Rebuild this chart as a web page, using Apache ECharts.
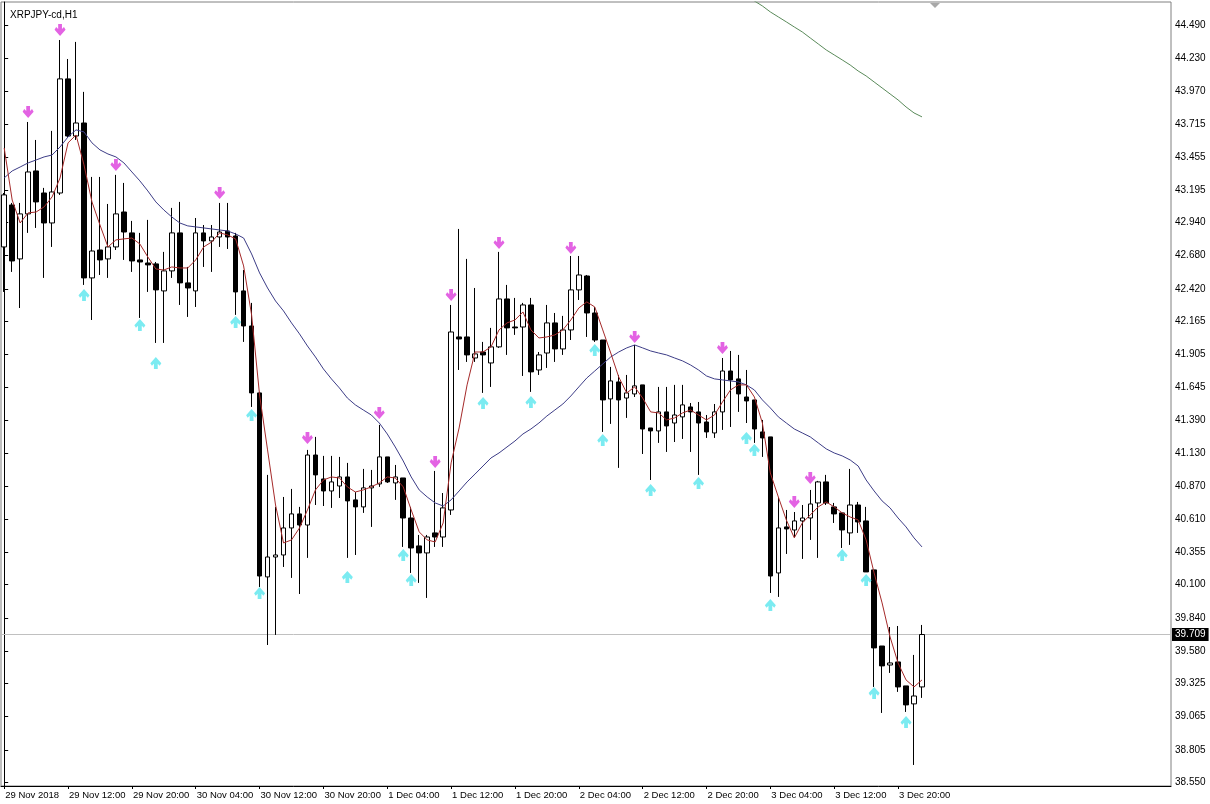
<!DOCTYPE html>
<html><head><meta charset="utf-8">
<script src="https://cdn.jsdelivr.net/npm/echarts@6/dist/echarts.min.js"></script>
<style>html,body{margin:0;padding:0;background:#fff}#c{width:1210px;height:804px}</style>
</head><body><div id="c"></div>
<script>
const chartTitle = 'XRPJPY-cd,H1';

const opens = [
42.749,43.078,42.655,43.008,43.345,43.172,42.937,43.172,44.067,43.619,
43.721,42.506,42.725,42.655,42.749,43.023,42.859,42.647,42.623,42.616,
42.404,42.561,42.859,42.467,42.404,42.859,42.796,42.827,42.874,42.835,
42.404,42.129,41.604,40.161,40.317,40.333,40.545,40.655,40.568,41.117,
40.929,40.835,40.874,40.945,40.765,40.710,40.859,40.890,41.102,40.898,
40.937,40.623,40.404,40.349,40.506,40.474,40.686,42.043,42.043,41.878,
41.925,41.839,41.965,42.341,42.121,42.121,42.294,41.784,41.917,42.153,
41.949,42.098,42.412,42.521,42.231,42.019,41.557,41.690,41.564,41.596,
41.667,41.329,41.306,41.455,41.368,41.416,41.494,41.455,41.376,41.290,
41.455,41.776,41.714,41.572,41.549,41.298,41.259,40.192,40.553,40.529,
40.600,40.623,40.741,40.906,40.710,40.663,40.506,40.725,40.600,40.216,
39.619,39.470,39.494,39.306,39.165,39.298];

const closes = [
43.157,42.639,43.008,43.337,43.102,42.937,43.180,44.067,43.619,43.721,
42.506,42.717,42.647,42.749,43.008,42.866,42.639,42.631,42.608,42.412,
42.561,42.859,42.467,42.427,42.859,42.796,42.827,42.866,42.827,42.396,
42.129,41.604,40.168,40.317,40.333,40.545,40.655,40.568,41.117,40.961,
40.835,40.906,40.945,40.757,40.710,40.859,40.874,41.102,40.906,40.945,
40.623,40.388,40.349,40.474,40.474,40.702,42.082,42.027,41.902,41.910,
41.902,41.965,42.341,42.114,42.114,42.294,41.769,41.902,42.153,41.949,
42.098,42.412,42.529,42.231,42.019,41.549,41.698,41.549,41.604,41.659,
41.321,41.306,41.455,41.345,41.431,41.510,41.455,41.368,41.298,41.455,
41.776,41.706,41.596,41.541,41.321,41.251,40.168,40.545,40.537,40.600,
40.623,40.733,40.906,40.741,40.655,40.529,40.725,40.592,40.200,39.604,
39.463,39.486,39.298,39.157,39.227,39.709];

const lows = [
42.396,42.553,42.270,42.859,42.898,42.506,42.749,43.157,43.612,43.588,
42.451,42.176,42.529,42.506,42.725,42.647,42.553,42.192,42.396,41.996,
41.996,42.506,42.294,42.200,42.278,42.592,42.553,42.749,42.733,42.216,
42.004,41.494,40.082,39.627,39.706,40.239,40.153,40.027,40.310,40.725,
40.717,40.702,40.780,40.310,40.333,40.663,40.553,40.867,40.898,40.765,
40.396,40.192,40.114,39.996,40.396,40.396,40.647,41.784,41.847,41.847,
41.604,41.651,41.957,41.902,42.059,41.737,41.612,41.745,41.800,41.847,
41.902,42.019,42.333,42.043,42.004,41.298,41.361,41.016,41.408,41.572,
41.125,40.921,41.212,41.141,41.219,41.243,41.141,40.961,41.251,41.251,
41.314,41.337,41.455,41.368,41.212,41.102,40.035,40.004,40.341,40.474,
40.302,40.451,40.310,40.725,40.584,40.388,40.412,40.506,40.200,39.298,
39.094,39.408,39.259,39.102,38.686,39.212];

const highs = [
43.172,43.094,43.094,43.729,43.588,43.212,43.659,44.372,44.223,44.357,
43.965,43.298,43.298,43.086,43.314,43.251,42.953,42.859,42.961,42.631,
42.710,43.055,43.102,42.592,42.976,42.921,42.921,43.094,43.094,42.859,
42.568,42.310,41.612,40.961,40.710,40.788,40.851,40.710,41.157,41.259,
41.110,41.110,41.102,41.055,40.827,41.008,41.000,41.353,41.102,41.039,
40.937,40.710,40.490,40.490,40.992,40.819,42.294,42.890,42.655,42.427,
42.004,42.114,42.710,42.451,42.349,42.310,42.349,41.925,42.294,42.231,
42.208,42.678,42.678,42.529,42.278,42.019,41.808,41.745,41.745,41.980,
41.667,41.329,41.651,41.651,41.667,41.667,41.525,41.533,41.431,41.517,
41.878,41.933,41.902,41.784,41.549,41.392,41.259,40.788,40.686,40.670,
40.725,40.843,40.914,40.961,40.741,40.663,41.008,40.749,40.710,40.216,
39.619,39.768,39.776,39.306,39.549,39.784];

const maFast = [
43.525,43.117,42.937,43.016,43.023,43.063,43.141,43.290,43.565,43.627,
43.392,43.102,42.921,42.749,42.804,42.812,42.819,42.772,42.670,42.576,
42.568,42.592,42.584,42.584,42.647,42.749,42.788,42.859,42.843,42.812,
42.600,42.216,41.588,41.157,40.725,40.427,40.451,40.545,40.686,40.843,
40.921,40.945,40.937,40.867,40.827,40.843,40.867,40.898,40.945,40.937,
40.867,40.686,40.514,40.451,40.435,40.584,41.055,41.329,41.667,41.925,
41.925,41.965,42.098,42.153,42.176,42.239,42.098,42.035,42.043,42.059,
42.098,42.176,42.270,42.318,42.278,42.098,41.917,41.729,41.604,41.651,
41.564,41.455,41.447,41.392,41.408,41.447,41.470,41.431,41.392,41.431,
41.533,41.627,41.667,41.667,41.572,41.368,40.976,40.788,40.608,40.467,
40.584,40.647,40.710,40.749,40.710,40.663,40.631,40.608,40.451,40.192,
39.957,39.690,39.486,39.353,39.298,39.353];

const maSlow = [
43.290,43.345,43.376,43.408,43.431,43.455,43.470,43.533,43.612,43.667,
43.651,43.565,43.510,43.478,43.455,43.408,43.337,43.267,43.188,43.102,
43.039,42.984,42.937,42.914,42.906,42.898,42.890,42.882,42.874,42.851,
42.819,42.694,42.545,42.427,42.325,42.247,42.153,42.067,41.972,41.886,
41.792,41.714,41.643,41.564,41.510,41.470,41.431,41.368,41.282,41.180,
41.070,40.945,40.843,40.788,40.741,40.717,40.765,40.835,40.906,40.968,
41.031,41.094,41.133,41.180,41.227,41.282,41.321,41.368,41.423,41.470,
41.517,41.580,41.651,41.721,41.776,41.831,41.886,41.925,41.957,41.980,
41.957,41.933,41.917,41.902,41.878,41.855,41.823,41.784,41.737,41.714,
41.706,41.698,41.690,41.667,41.627,41.549,41.486,41.416,41.368,41.321,
41.290,41.259,41.212,41.165,41.133,41.110,41.078,41.031,40.921,40.835,
40.757,40.702,40.623,40.553,40.467,40.396];

const maLongFirstBar = 93;
const maLong = [
44.725,44.678,44.639,44.592,44.553,44.514,44.474,44.435,44.388,44.341,
44.294,44.255,44.216,44.176,44.129,44.090,44.043,43.996,43.949,43.902,
43.847,43.800,43.769];

const downArrowBars = [3,7,14,27,38,47,54,56,62,71,79,90,99,101];
const downArrowVals = [43.808,44.451,43.392,43.172,41.251,41.447,41.063,42.372,42.780,42.741,42.043,41.957,40.749,40.937];
const upArrowBars = [10,17,19,29,31,32,43,50,51,60,66,74,75,81,87,93,94,96,105,108,109,113];
const upArrowVals = [42.372,42.137,41.839,42.161,41.431,40.035,40.161,40.333,40.137,41.525,41.533,41.941,41.235,40.843,40.898,41.251,41.157,39.941,40.333,40.137,39.251,39.023];

const yTicks = [44.490,44.230,43.970,43.715,43.455,43.195,42.940,42.680,42.420,42.165,41.905,41.645,41.390,41.130,40.870,40.610,40.355,40.100,39.840,39.580,39.325,39.065,38.805,38.550];
const xTickBars = [0,8,16,24,32,40,48,56,64,72,80,88,96,104,112];
const xTickLabels = ['29 Nov 2018','29 Nov 12:00','29 Nov 20:00','30 Nov 04:00','30 Nov 12:00','30 Nov 20:00','1 Dec 04:00','1 Dec 12:00','1 Dec 20:00','2 Dec 04:00','2 Dec 12:00','2 Dec 20:00','3 Dec 04:00','3 Dec 12:00','3 Dec 20:00'];

const FONT = '"Liberation Sans", Arial, sans-serif';
const lastPrice = closes[closes.length - 1];

const candleData = opens.map((o, i) => [i, o, closes[i], lows[i], highs[i]]);
const fastData = maFast.map((v, i) => [i, v]);
const slowData = maSlow.map((v, i) => [i, v]);
const longData = maLong.map((v, k) => [maLongFirstBar + k, v]);
const downData = downArrowBars.map((b, k) => [b, downArrowVals[k]]);
const upData = upArrowBars.map((b, k) => [b, upArrowVals[k]]);

const downPath = 'path://M3.6,0 L7.4,0 L7.4,5.2 L9.4,3.2 L11,5.8 L5.5,12 L0,5.8 L1.6,3.2 L3.6,5.2 Z';
const upPath = 'path://M3.6,12 L7.4,12 L7.4,6.8 L9.4,8.8 L11,6.2 L5.5,0 L0,6.2 L1.6,8.8 L3.6,6.8 Z';

const chart = echarts.init(document.getElementById('c'), null, {renderer: 'canvas'});
chart.setOption({
  animation: false,
  backgroundColor: '#ffffff',
  title: {text: chartTitle, left: 5, top: 5, textStyle: {fontSize: 10, fontWeight: 'normal', color: '#000', fontFamily: FONT}},
  grid: {left: 1, right: 39, top: 2, bottom: 18, show: true, borderColor: '#808080', borderWidth: 1, outerBoundsMode: 'none'},
  xAxis: {
    type: 'value', min: -0.4, max: 146.2,
    axisLine: {show: true, onZero: false, lineStyle: {color: '#000', width: 1}},
    axisTick: {show: true, length: 3, customValues: xTickBars, lineStyle: {color: '#000'}},
    axisLabel: {show: true, customValues: xTickBars, align: 'left', margin: 4, padding: [0, 0, 0, 1],
      fontSize: 9.5, color: '#000', fontFamily: FONT, hideOverlap: false,
      formatter: v => xTickLabels[xTickBars.indexOf(Math.round(v))] || ''},
    splitLine: {show: false}
  },
  yAxis: {
    type: 'value', position: 'right', min: 38.521, max: 44.670,
    axisLine: {show: true, lineStyle: {color: '#000', width: 1}},
    axisTick: {show: true, length: 4, customValues: yTicks, lineStyle: {color: '#000'}},
    axisLabel: {show: true, customValues: yTicks, margin: 4, fontSize: 10, color: '#000', fontFamily: FONT, hideOverlap: false,
      formatter: v => v.toFixed(3)},
    splitLine: {show: false}
  },
  graphic: [{type: 'polygon', shape: {points: [[930, 3], [940, 3], [935, 8]]}, style: {fill: '#a8a8a8'}, silent: true}],
  series: [
    {
      type: 'candlestick', data: candleData, barWidth: 5, z: 2,
      itemStyle: {color: '#ffffff', color0: '#000000', borderColor: '#000000', borderColor0: '#000000', borderWidth: 1},
      markLine: {
        silent: true, symbol: ['none', 'none'], animation: false, z: 1,
        lineStyle: {color: '#c0c0c0', width: 1, type: 'solid'},
        label: {show: true, position: 'end', distance: 1, formatter: () => lastPrice.toFixed(3),
          backgroundColor: '#000', color: '#fff', fontSize: 10, fontFamily: FONT, padding: [2, 3, 1, 3]},
        data: [{yAxis: lastPrice}]
      }
    },
    {type: 'line', data: slowData, symbol: 'none', z: 3, lineStyle: {color: '#3d3d87', width: 1}},
    {type: 'line', data: fastData, symbol: 'none', z: 4, lineStyle: {color: '#a52a2a', width: 1}},
    {type: 'line', data: longData, symbol: 'none', z: 3, lineStyle: {color: '#5a8a5a', width: 1}},
    {type: 'scatter', data: downData, symbol: downPath, symbolSize: [11, 12], z: 5, itemStyle: {color: '#dc3cdc'}},
    {type: 'scatter', data: upData, symbol: upPath, symbolSize: [11, 12], z: 5, itemStyle: {color: '#5ae6ee'}}
  ]
});
</script>
</body></html>
